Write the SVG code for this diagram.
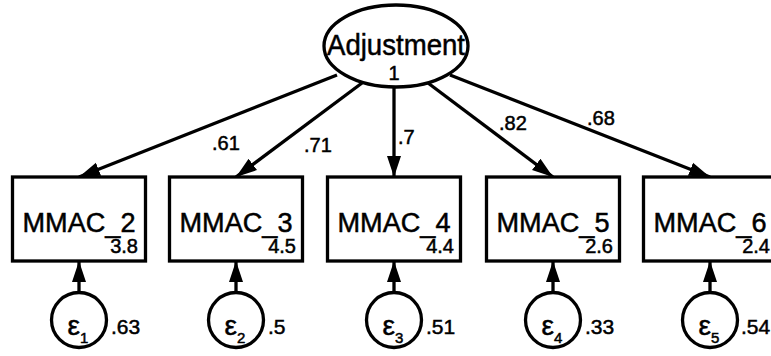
<svg xmlns="http://www.w3.org/2000/svg" width="771" height="356" viewBox="0 0 771 356">
<defs>
<marker id="ah" markerUnits="userSpaceOnUse" markerWidth="22" markerHeight="16" refX="21" refY="8" orient="auto">
<path d="M0,1 L21,8 L0,15 z" fill="#000"/>
</marker>
<style>
text{font-family:"Liberation Sans",Arial,sans-serif;fill:#000;stroke:#000;stroke-width:0.5}
.box{fill:#fff;stroke:#000;stroke-width:3.3}
.lat{fill:#fff;stroke:#000;stroke-width:3.3}
.err{fill:#fff;stroke:#000;stroke-width:3.3}
.path{stroke:#000;stroke-width:3.3;fill:none;marker-end:url(#ah)}
.name{font-size:27px;text-anchor:middle}
.mean{font-size:20px;text-anchor:end}
.coef{font-size:20px}
.ev{font-size:21px}
.eps{font-size:28px;text-anchor:middle}
</style>
</defs>
<rect width="771" height="356" fill="#fff"/>
<g id="connectors">
<line class="path" x1="337" y1="75" x2="79" y2="177"/>
<line class="path" x1="362" y1="83" x2="236" y2="177"/>
<line class="path" x1="394" y1="87" x2="394" y2="177"/>
<line class="path" x1="428" y1="83" x2="553" y2="177"/>
<line class="path" x1="450" y1="75" x2="710" y2="177"/>
<line class="path" x1="79" y1="292" x2="79" y2="261"/>
<line class="path" x1="236" y1="292" x2="236" y2="261"/>
<line class="path" x1="394" y1="292" x2="394" y2="261"/>
<line class="path" x1="553" y1="292" x2="553" y2="261"/>
<line class="path" x1="710" y1="292" x2="710" y2="261"/>
<text class="coef" x="212" y="150">.61</text>
<text class="coef" x="304" y="152">.71</text>
<text class="coef" x="398" y="144">.7</text>
<text class="coef" x="499" y="130">.82</text>
<text class="coef" x="587" y="125">.68</text>
</g>
<g id="Adjustment">
<ellipse class="lat" cx="396" cy="46" rx="72" ry="41"/>
<text x="396" y="55" font-size="29" text-anchor="middle" textLength="138" lengthAdjust="spacingAndGlyphs">Adjustment</text>
<text x="394" y="80" font-size="20" text-anchor="middle">1</text>
</g>
<g id="MMAC_2">
<rect class="box" x="12.5" y="177" width="133" height="84"/>
<text class="name" x="79" y="232" textLength="113" lengthAdjust="spacingAndGlyphs">MMAC_2</text>
<text class="mean" x="138" y="253">3.8</text>
</g>
<g id="MMAC_3">
<rect class="box" x="169.5" y="177" width="133" height="84"/>
<text class="name" x="236" y="232" textLength="113" lengthAdjust="spacingAndGlyphs">MMAC_3</text>
<text class="mean" x="296" y="253">4.5</text>
</g>
<g id="MMAC_4">
<rect class="box" x="327.5" y="177" width="133" height="84"/>
<text class="name" x="394" y="232" textLength="113" lengthAdjust="spacingAndGlyphs">MMAC_4</text>
<text class="mean" x="454" y="253">4.4</text>
</g>
<g id="MMAC_5">
<rect class="box" x="486.5" y="177" width="133" height="84"/>
<text class="name" x="553" y="232" textLength="113" lengthAdjust="spacingAndGlyphs">MMAC_5</text>
<text class="mean" x="613" y="253">2.6</text>
</g>
<g id="MMAC_6">
<rect class="box" x="643.5" y="177" width="133" height="84"/>
<text class="name" x="710" y="232" textLength="113" lengthAdjust="spacingAndGlyphs">MMAC_6</text>
<text class="mean" x="770" y="253">2.4</text>
</g>
<g id="e1">
<circle class="err" cx="79" cy="320" r="27.5"/>
<text class="eps" x="78" y="335">ε<tspan font-size="15" dy="8">1</tspan></text>
<text class="ev" x="111" y="334">.63</text>
</g>
<g id="e2">
<circle class="err" cx="236" cy="320" r="27.5"/>
<text class="eps" x="235" y="335">ε<tspan font-size="15" dy="8">2</tspan></text>
<text class="ev" x="268" y="334">.5</text>
</g>
<g id="e3">
<circle class="err" cx="394" cy="320" r="27.5"/>
<text class="eps" x="393" y="335">ε<tspan font-size="15" dy="8">3</tspan></text>
<text class="ev" x="426" y="334">.51</text>
</g>
<g id="e4">
<circle class="err" cx="553" cy="320" r="27.5"/>
<text class="eps" x="552" y="335">ε<tspan font-size="15" dy="8">4</tspan></text>
<text class="ev" x="585" y="334">.33</text>
</g>
<g id="e5">
<circle class="err" cx="710" cy="320" r="27.5"/>
<text class="eps" x="709" y="335">ε<tspan font-size="15" dy="8">5</tspan></text>
<text class="ev" x="741" y="334">.54</text>
</g>
</svg>
